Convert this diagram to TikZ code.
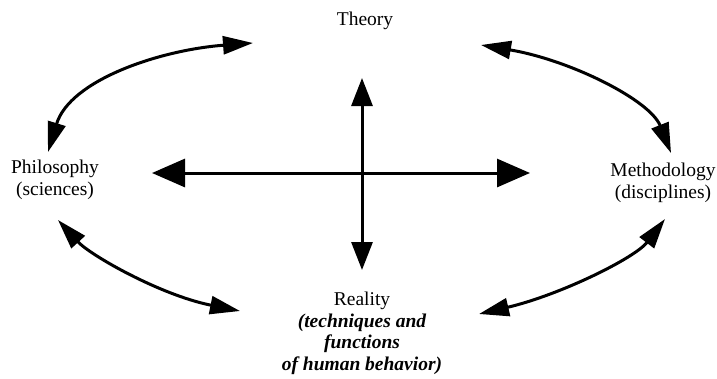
\documentclass[tikz,border=0pt]{standalone}
\usepackage{fontspec}
\setmainfont{Liberation Serif}
\usetikzlibrary{arrows.meta}
\begin{document}
\begin{tikzpicture}[x=1pt,y=-1pt,
  lbl/.style={inner sep=0pt,align=center,anchor=north,font=\fontsize{19.5}{21.5}\selectfont},
  axis/.style={line width=3pt,{Triangle[length=33pt,width=28pt]}-{Triangle[length=33pt,width=28pt]}},
  vaxis/.style={line width=3pt,{Triangle[length=28pt,width=21pt]}-{Triangle[length=28pt,width=21pt]}},
  arc/.style={line width=3pt,{Triangle[length=30pt,width=18pt]}-{Triangle[length=30pt,width=18pt]}}]
\useasboundingbox (0,0) rectangle (717,378);
\node[lbl] (theory) at (365,12) {Theory};
\node[lbl] (philo) at (55,160) {Philosophy\\(sciences)};
\node[lbl] (method) at (663,163) {Methodology\\(disciplines)};
\node[lbl] (reality) at (362,292) {Reality\\{\bfseries\itshape (techniques and}\\{\bfseries\itshape functions}\\{\bfseries\itshape of human behavior)}};
% free ends
\coordinate (hl) at (152,173);
\coordinate (hr) at (530,173);
\coordinate (vt) at (362,78);
\coordinate (vb) at (362,270);
\coordinate (tlA) at (253,43);
\coordinate (tlB) at (48,152);
\coordinate (trA) at (481,45);
\coordinate (trB) at (671,153);
\coordinate (blA) at (58,220);
\coordinate (blB) at (240,311);
\coordinate (brA) at (479,314);
\coordinate (brB) at (665,219);
\draw[axis] (hl) -- (hr);
\draw[vaxis] (vt) -- (vb);
\draw[arc] (tlA) .. controls (160,50) and (70,80) .. (tlB);
\draw[arc] (trA) .. controls (570,60) and (650,100) .. (trB);
\draw[arc] (blA) .. controls (90,255) and (160,295) .. (blB);
\draw[arc] (brA) .. controls (560,295) and (635,258) .. (brB);
\end{tikzpicture}
\end{document}
